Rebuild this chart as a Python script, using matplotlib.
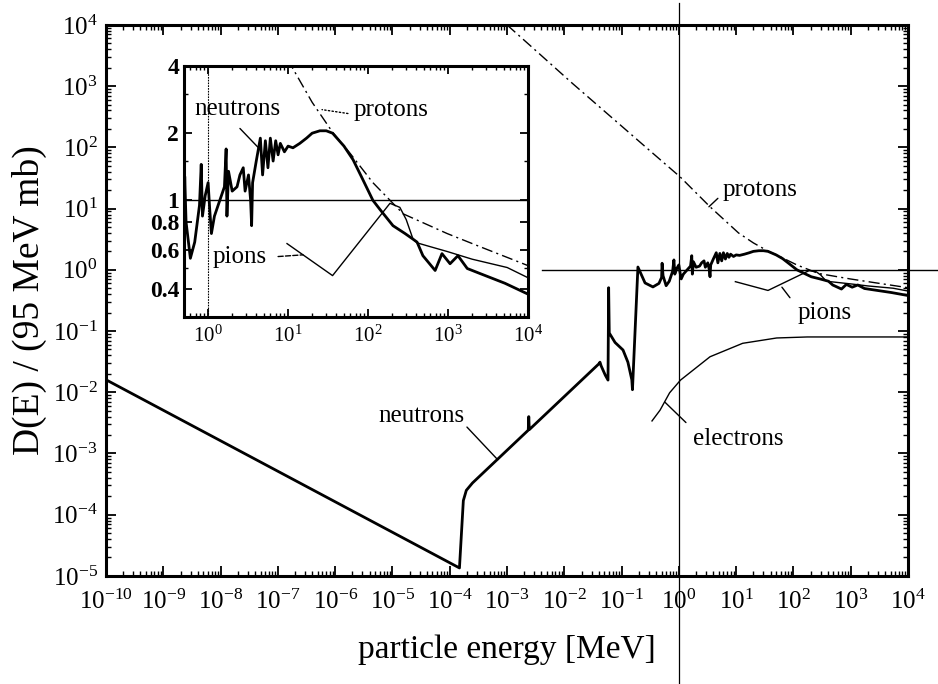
import numpy as np
import matplotlib
matplotlib.use('Agg')
import matplotlib.pyplot as plt
from matplotlib.ticker import LogLocator, NullFormatter, FixedLocator, FixedFormatter

plt.rcParams['font.family'] = ['Liberation Serif', 'DejaVu Serif']
plt.rcParams['mathtext.fontset'] = 'custom'
plt.rcParams['mathtext.rm'] = 'Liberation Serif'
plt.rcParams['mathtext.it'] = 'Liberation Serif:italic'
plt.rcParams['mathtext.bf'] = 'Liberation Serif:bold'

# ---------------- data (E in MeV, D relative)
neutron_E = [1e-10, 1.48e-4, 1.73e-4, 1.95e-4, 2.5e-4, 2.35e-3, 2.4e-3, 2.45e-3,
             0.040, 0.042, 0.044, 0.052, 0.058, 0.0595, 0.061, 0.077, 0.106, 0.129,
             0.151, 0.155, 0.193, 0.257, 0.353, 0.45, 0.50, 0.51, 0.53, 0.60, 0.68,
             0.78, 0.82, 0.85, 0.92, 1.0, 1.05, 1.1, 1.2, 1.4, 1.6, 1.68, 1.72, 1.8,
             2.0, 2.3, 2.5, 2.75, 2.9, 3.2, 3.4, 3.5, 3.6, 4.0, 4.5, 4.8, 5.2, 5.6,
             6.0, 6.5, 7.0, 7.5, 8.0, 9.0, 10, 11.5, 14, 17, 20, 25, 30, 36, 50, 65,
             85, 115, 141, 205, 290, 365, 410, 485, 690, 840, 1060, 1330, 1740, 2510,
             5150, 1e4]
neutron_D = [1.6e-2, 1.35e-5, 1.7e-4, 2.5e-4, 3.3e-4, 2.4e-3, 4.0e-3, 2.45e-3,
             0.029, 0.031, 0.027, 0.019, 0.0158, 0.51, 0.093, 0.065, 0.049, 0.031,
             0.016, 0.011, 1.11, 0.61, 0.525, 0.6, 0.75, 1.28, 0.8, 0.55, 0.65,
             0.95, 1.45, 0.85, 1.05, 1.2, 0.9, 0.71, 0.85, 1.0, 1.15, 1.7, 0.85, 1.35,
             1.1, 1.15, 1.3, 1.4, 1.1, 1.3, 1.0, 0.77, 1.2, 1.5, 1.9, 1.3, 1.85, 1.4,
             1.9, 1.5, 1.85, 1.6, 1.8, 1.65, 1.75, 1.72, 1.8, 1.9, 2.0, 2.05, 2.05, 2.0,
             1.75, 1.52, 1.25, 1.0, 0.91, 0.77, 0.71, 0.67, 0.65, 0.565, 0.485, 0.577,
             0.52, 0.565, 0.495, 0.47, 0.425, 0.38]

proton_E = [1e-3, 3e-3, 1.4e-2, 0.105, 0.3, 1.05, 3.5, 11, 20, 36, 60, 115, 275,
            975, 2510, 1e4]
proton_D = [1e4, 4.0e3, 1.1e3, 214, 91, 33, 10.7, 4.0, 2.75, 2.02, 1.62, 1.2, 0.87,
            0.71, 0.62, 0.51]

pion_E = [9.7, 36, 188, 250, 300, 365, 410, 600, 975, 2000, 5500, 1e4]
pion_D = [0.64, 0.46, 0.97, 0.93, 0.82, 0.67, 0.645, 0.62, 0.59, 0.545, 0.5, 0.45]

electron_E = [0.34, 0.47, 0.69, 1.07, 3.5, 13, 51, 175, 1e4]
electron_D = [3.4e-3, 5.1e-3, 9.8e-3, 0.0158, 0.038, 0.063, 0.077, 0.080, 0.080]

inset_yticks = [0.4, 0.6, 0.8, 1, 2, 4]
inset_ylabels = ['0.4', '0.6', '0.8', '1', '2', '4']

proton_dash = (0, (8, 3, 1.5, 3))

# ---------------- figure
fig = plt.figure(figsize=(9.38, 6.84), dpi=100)
ax = fig.add_axes([0.113, 0.158, 0.855, 0.8056])

ax.plot(neutron_E, neutron_D, color='k', lw=2.0)
ax.plot(proton_E, proton_D, color='k', lw=1.0, ls=proton_dash)
ax.plot(pion_E, pion_D, color='k', lw=1.0)
ax.plot(electron_E, electron_D, color='k', lw=1.0)

# guide lines reaching out of the frame
ax.plot([1, 1], [1.04, -0.2], transform=ax.get_xaxis_transform(), clip_on=False,
        color='k', lw=0.9)
ax.plot([0.544, 1.04], [1, 1], transform=ax.get_yaxis_transform(), clip_on=False,
        color='k', lw=1.0)

ax.set_xscale('log')
ax.set_yscale('log')
ax.set_xlim(1e-10, 1e4)
ax.set_ylim(1e-5, 1e4)
for a in (ax.xaxis, ax.yaxis):
    a.set_major_locator(LogLocator(base=10, numticks=30))
    a.set_minor_locator(LogLocator(base=10, subs=np.arange(2, 10), numticks=300))
    a.set_minor_formatter(NullFormatter())
ax.tick_params(which='both', direction='in', top=True, right=True, labelsize=18)
ax.tick_params(which='major', length=7, width=1.3)
ax.tick_params(which='minor', length=3.5, width=1.0)
ax.tick_params(axis='x', which='major', pad=10)
ax.tick_params(axis='y', which='major', pad=6)
for s in ax.spines.values():
    s.set_linewidth(2.2)

ax.set_xlabel('particle energy [MeV]', fontsize=24, labelpad=15)
ax.set_ylabel('D(E) / (95 MeV mb)', fontsize=27, labelpad=4)

lab = dict(fontsize=18, ha='center', va='center')
leader = dict(arrowstyle='-', lw=1.0, color='k', shrinkA=0, shrinkB=0)
ax.text(3.2e-5, 4.1e-3, 'neutrons', **lab)
ax.annotate('', xy=(6.9e-4, 7.9e-4), xytext=(2.0e-4, 2.7e-3), arrowprops=leader)
ax.text(10.7, 1.74e-3, 'electrons', **lab)
ax.annotate('', xy=(0.57, 6.9e-3), xytext=(1.33, 3.2e-3), arrowprops=leader)
ax.text(355, 0.20, 'pions', **lab)
ax.annotate('', xy=(63, 0.52), xytext=(87, 0.35), arrowprops=leader)
ax.text(5.9, 20, 'protons', fontsize=18, ha='left', va='center')
ax.annotate('', xy=(3.35, 10.7), xytext=(4.8, 14.7), arrowprops=leader)

# ---------------- inset
ins = fig.add_axes([0.1962, 0.5365, 0.3667, 0.367])
ins.set_facecolor('white')
ins.plot(neutron_E, neutron_D, color='k', lw=2.0)
ins.plot(proton_E, proton_D, color='k', lw=1.0, ls=proton_dash)
ins.plot(pion_E, pion_D, color='k', lw=1.0)
ins.axhline(1, color='k', lw=1.0)
ins.axvline(1, color='k', lw=0.8, ls=(0, (1.5, 1)))

ins.set_xscale('log')
ins.set_yscale('log')
ins.set_xlim(0.5, 1e4)
ins.set_ylim(0.3, 4)
ins.xaxis.set_major_locator(LogLocator(base=10, numticks=10))
ins.xaxis.set_minor_locator(LogLocator(base=10, subs=np.arange(2, 10), numticks=100))
ins.xaxis.set_minor_formatter(NullFormatter())
ins.yaxis.set_major_locator(FixedLocator(inset_yticks))
ins.yaxis.set_major_formatter(FixedFormatter(inset_ylabels))
ins.yaxis.set_minor_locator(FixedLocator([0.3, 0.5, 1.5, 3]))
ins.yaxis.set_minor_formatter(NullFormatter())
ins.tick_params(which='both', direction='in', top=True, right=True)
ins.tick_params(axis='x', labelsize=15, pad=6)
ins.tick_params(axis='y', labelsize=17)
for t in ins.get_yticklabels():
    t.set_fontweight('bold')
ins.tick_params(which='major', length=6, width=1.3)
ins.tick_params(which='minor', length=3, width=1.0)
for s in ins.spines.values():
    s.set_linewidth(2.2)

ins.text(2.3, 2.58, 'neutrons', **lab)
ins.annotate('', xy=(4.2, 1.73), xytext=(2.5, 2.1), arrowprops=leader)
ins.text(65, 2.53, 'protons', fontsize=18, ha='left', va='center')
ins.annotate('', xy=(26.6, 2.55), xytext=(56, 2.45),
             arrowprops=dict(leader, ls=':'))
ins.text(2.5, 0.56, 'pions', **lab)
ins.annotate('', xy=(15.4, 0.57), xytext=(7.5, 0.56),
             arrowprops=dict(leader, ls='--'))

fig.savefig('out.png', dpi=100)
